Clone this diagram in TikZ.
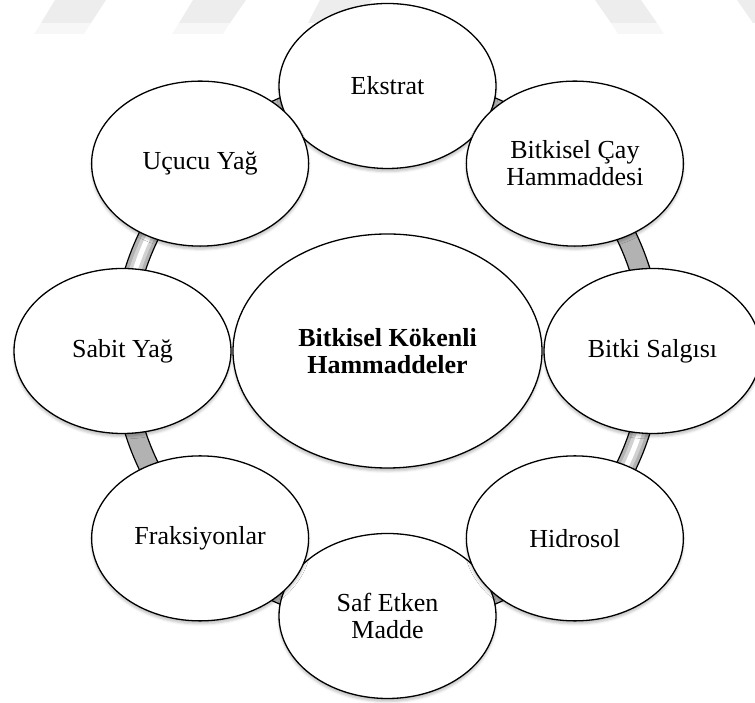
\documentclass[tikz,border=0pt]{standalone}
\usepackage{fontspec}
\setmainfont{Liberation Serif}
\usetikzlibrary{shapes.geometric,shadows.blur}
\begin{document}
\begin{tikzpicture}[x=1pt,y=1pt,
  item/.style={ellipse, draw=black, line width=1.3pt, fill=white,
    minimum width=217pt, minimum height=165pt, inner sep=0pt, align=center,
    font=\fontsize{26}{27}\selectfont,
    blur shadow={shadow xshift=0pt, shadow yshift=-3pt, shadow blur radius=2.5pt, shadow opacity=25}},
  hub/.style={item, minimum width=309pt, minimum height=234pt,
    font=\fontsize{26}{27.5}\selectfont\bfseries},
  wmark/.style={fill=black!7, draw=none},
  wfade/.style={fill=black!3, draw=none},
  band/.style={black!30},
  ringline/.style={draw=black, line width=1.2pt}]
\useasboundingbox (0,0) rectangle (755,703);
% faint watermark at top
\fill[wfade] (41,680) -- (91,680) -- (84,669) -- (34,669) -- cycle;
\fill[wfade] (179,680) -- (230,680) -- (223,669) -- (172,669) -- cycle;
\fill[wfade] (611,680) -- (657,680) -- (664,669) -- (618,669) -- cycle;
\fill[wmark] (55,703) -- (106,703) -- (91,680) -- (41,680) -- cycle;
\fill[wmark] (193,703) -- (246,703) -- (230,680) -- (179,680) -- cycle;
\fill[wmark] (320,703) -- (372,703) -- (358,680) -- (308,680) -- cycle;
\fill[wmark] (595,703) -- (641,703) -- (657,680) -- (611,680) -- cycle;
\fill[wmark] (737,703) -- (790,703) -- (806,680) -- (753,680) -- cycle;
% ring
\coordinate (C) at (387.5,352);
\fill[band, even odd rule] (C) circle (275) (C) circle (255);
\draw[line width=12pt, black!18] (C) ++(140:265) arc[start angle=140, end angle=178, radius=265];
\draw[line width=5pt, white] (C) ++(143:265) arc[start angle=143, end angle=175, radius=265];
\draw[line width=12pt, black!18] (C) ++(-40:265) arc[start angle=-40, end angle=-5, radius=265];
\draw[line width=5pt, white] (C) ++(-37:265) arc[start angle=-37, end angle=-8, radius=265];
\draw[ringline] (C) circle (275);
\draw[ringline] (C) circle (255);
% outer items
\node[item] (ek) at ([shift={(90:265)}]C) {Ekstrat};
\node[item] (sa) at ([shift={(-90:265)}]C) {Saf Etken\\Madde};
\node[item] (uc) at ([shift={(135:265)}]C) {Uçucu Yağ};
\node[item] (bc) at ([shift={(45:265)}]C) {Bitkisel Çay\\Hammaddesi};
\node[item] (sy) at ([shift={(180:265)}]C) {Sabit Yağ};
\node[item] (bs) at ([shift={(0:265)}]C) {Bitki Salgısı};
\node[item] (fr) at ([shift={(-135:265)}]C) {Fraksiyonlar};
\node[item] (hi) at ([shift={(-45:265)}]C) {Hidrosol};
% centre
\node[hub] (hub) at (C) {Bitkisel Kökenli\\Hammaddeler};
\end{tikzpicture}
\end{document}
